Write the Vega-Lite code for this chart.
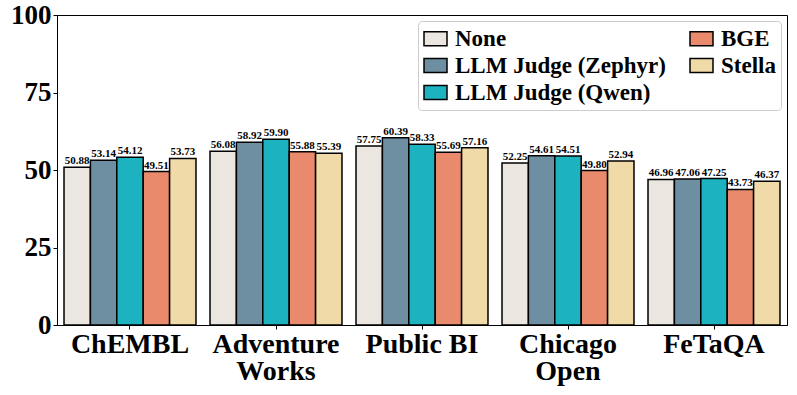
{
  "$schema": "https://vega.github.io/schema/vega-lite/v6.json",
  "width": 730,
  "height": 310,
  "autosize": {"type": "none"},
  "padding": {"left": 57, "top": 15, "right": 10, "bottom": 70},
  "background": "white",
  "config": {
    "view": {"stroke": "black", "strokeWidth": 1},
    "font": "Liberation Serif"
  },
  "data": {
    "values": [
      {"dataset": "ChEMBL", "method": "None", "value": 50.88},
      {"dataset": "ChEMBL", "method": "LLM Judge (Zephyr)", "value": 53.14},
      {"dataset": "ChEMBL", "method": "LLM Judge (Qwen)", "value": 54.12},
      {"dataset": "ChEMBL", "method": "BGE", "value": 49.51},
      {"dataset": "ChEMBL", "method": "Stella", "value": 53.73},
      {"dataset": "Adventure Works", "method": "None", "value": 56.08},
      {"dataset": "Adventure Works", "method": "LLM Judge (Zephyr)", "value": 58.92},
      {"dataset": "Adventure Works", "method": "LLM Judge (Qwen)", "value": 59.90},
      {"dataset": "Adventure Works", "method": "BGE", "value": 55.88},
      {"dataset": "Adventure Works", "method": "Stella", "value": 55.39},
      {"dataset": "Public BI", "method": "None", "value": 57.75},
      {"dataset": "Public BI", "method": "LLM Judge (Zephyr)", "value": 60.39},
      {"dataset": "Public BI", "method": "LLM Judge (Qwen)", "value": 58.33},
      {"dataset": "Public BI", "method": "BGE", "value": 55.69},
      {"dataset": "Public BI", "method": "Stella", "value": 57.16},
      {"dataset": "Chicago Open", "method": "None", "value": 52.25},
      {"dataset": "Chicago Open", "method": "LLM Judge (Zephyr)", "value": 54.61},
      {"dataset": "Chicago Open", "method": "LLM Judge (Qwen)", "value": 54.51},
      {"dataset": "Chicago Open", "method": "BGE", "value": 49.80},
      {"dataset": "Chicago Open", "method": "Stella", "value": 52.94},
      {"dataset": "FeTaQA", "method": "None", "value": 46.96},
      {"dataset": "FeTaQA", "method": "LLM Judge (Zephyr)", "value": 47.06},
      {"dataset": "FeTaQA", "method": "LLM Judge (Qwen)", "value": 47.25},
      {"dataset": "FeTaQA", "method": "BGE", "value": 43.73},
      {"dataset": "FeTaQA", "method": "Stella", "value": 46.37}
    ]
  },
  "encoding": {
    "x": {
      "field": "dataset",
      "type": "nominal",
      "sort": null,
      "scale": {"paddingInner": 0.096, "paddingOuter": 0.048},
      "axis": {
        "title": null,
        "labelAngle": 0,
        "labelFont": "Liberation Serif",
        "labelFontSize": 28,
        "labelFontWeight": "bold",
        "labelColor": "black",
        "labelPadding": 1,
        "labelLineHeight": 27,
        "labelExpr": "datum.label == 'Adventure Works' ? ['Adventure', 'Works'] : datum.label == 'Chicago Open' ? ['Chicago', 'Open'] : datum.label",
        "tickSize": 4,
        "tickColor": "black",
        "domainColor": "black",
        "grid": false
      }
    },
    "xOffset": {
      "field": "method",
      "type": "nominal",
      "scale": {"domain": ["None", "LLM Judge (Zephyr)", "LLM Judge (Qwen)", "BGE", "Stella"], "paddingInner": 0, "paddingOuter": 0}
    },
    "y": {
      "field": "value",
      "type": "quantitative",
      "scale": {"domain": [0, 100], "nice": false},
      "axis": {
        "title": null,
        "values": [0, 25, 50, 75, 100],
        "labelFont": "Liberation Serif",
        "labelFontSize": 27,
        "labelFontWeight": "bold",
        "labelColor": "black",
        "labelPadding": 2,
        "tickSize": 4,
        "tickColor": "black",
        "domainColor": "black",
        "grid": false
      }
    }
  },
  "layer": [
    {
      "mark": {"type": "bar", "stroke": "black", "strokeWidth": 1.5},
      "encoding": {
        "color": {
          "field": "method",
          "type": "nominal",
          "scale": {
            "domain": ["None", "LLM Judge (Zephyr)", "LLM Judge (Qwen)", "BGE", "Stella"],
            "range": ["#ebe6df", "#6e8fa2", "#1cb2c0", "#e98a6c", "#f0dba8"]
          },
          "legend": {
            "title": null,
            "orient": "none",
            "legendX": 361,
            "legendY": 6,
            "columns": 2,
            "columnPadding": 21,
            "rowPadding": 2,
            "padding": 5,
            "strokeColor": "#cccccc",
            "fillColor": "white",
            "cornerRadius": 4,
            "symbolType": "M-1,-0.6H1V0.6H-1Z",
            "symbolSize": 529,
            "symbolStrokeColor": "black",
            "symbolStrokeWidth": 1.5,
            "symbolOpacity": 1,
            "labelFont": "Liberation Serif",
            "labelFontSize": 23,
            "labelFontWeight": "bold",
            "labelColor": "black",
            "labelOffset": 7,
            "labelLimit": 400
          }
        }
      }
    },
    {
      "mark": {"type": "text", "baseline": "bottom", "dy": -1, "fontSize": 11, "fontWeight": "bold", "font": "Liberation Serif", "color": "black"},
      "encoding": {
        "text": {"field": "value", "type": "quantitative", "format": ".2f"}
      }
    }
  ]
}
